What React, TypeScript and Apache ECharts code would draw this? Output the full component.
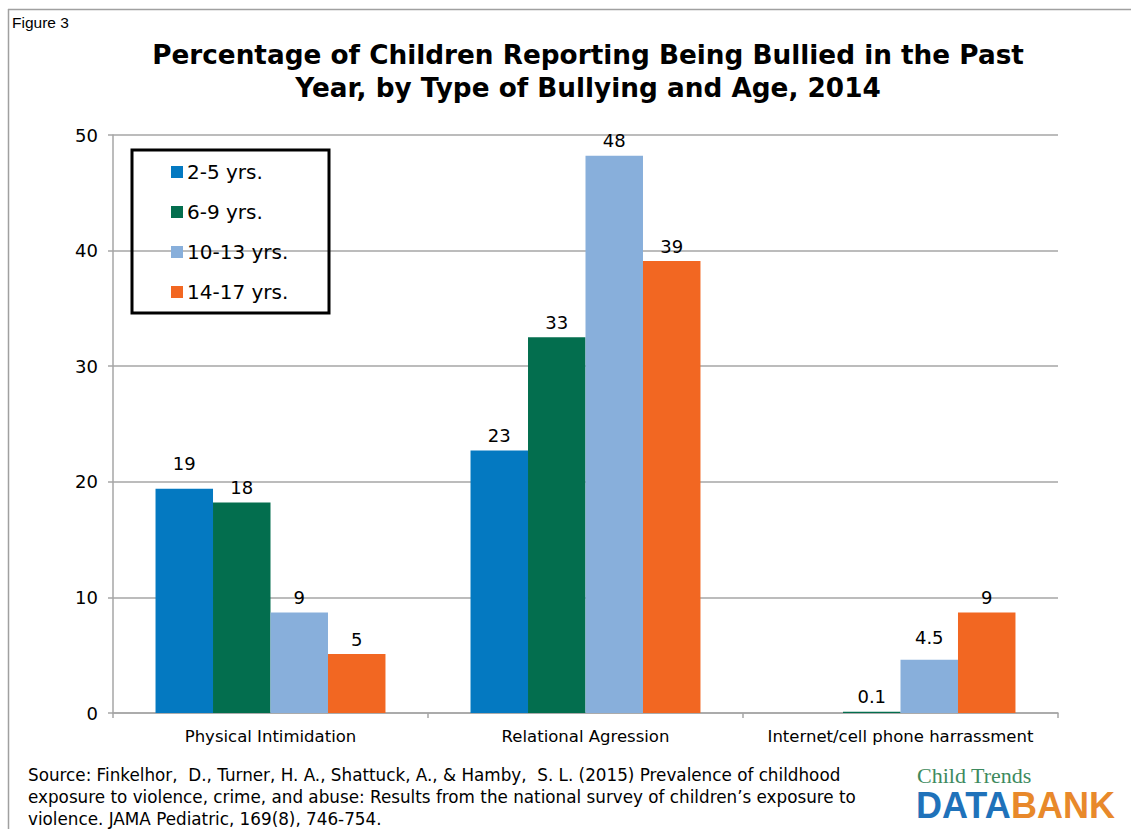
import React, { useEffect, useRef } from "react";
import * as echarts from "echarts";

const categories = ["Physical Intimidation", "Relational Agression", "Internet/cell phone harrassment"];
const seriesNames = ["2-5 yrs.", "6-9 yrs.", "10-13 yrs.", "14-17 yrs."];
const colors = ["#0479C1", "#036E4E", "#88AFDB", "#F26722"];
const age2to5 = [19.4, 22.7, null];
const age6to9 = [18.2, 32.5, 0.1];
const age10to13 = [8.7, 48.2, 4.6];
const age14to17 = [5.1, 39.1, 8.7];
const labels2to5 = ["19", "23", ""];
const labels6to9 = ["18", "33", "0.1"];
const labels10to13 = ["9", "48", "4.5"];
const labels14to17 = ["5", "39", "9"];
const yTicks = [0, 10, 20, 30, 40, 50];

const titleText = "Percentage of Children Reporting Being Bullied in the Past\nYear, by Type of Bullying and Age, 2014";
const sourceLines = [
  "Source: Finkelhor,  D., Turner, H. A., Shattuck, A., & Hamby,  S. L. (2015) Prevalence of childhood",
  "exposure to violence, crime, and abuse: Results from the national survey of children\u2019s exposure to",
  "violence. JAMA Pediatric, 169(8), 746-754.",
];

const FONT = "DejaVu Sans";

// extra label lift (px) for labels that the original nudged upward to avoid neighbours
const labelLift: Record<string, number> = { "0-0": 10, "2-2": 7 };

export default function App() {
  const ref = useRef<HTMLDivElement>(null);
  useEffect(() => {
    if (!ref.current) return;
    const chart = echarts.init(ref.current, null, { renderer: "svg" });
    const data = [age2to5, age6to9, age10to13, age14to17];
    const lbls = [labels2to5, labels6to9, labels10to13, labels14to17];
    chart.setOption({
      animation: false,
      backgroundColor: "#fff",
      title: {
        text: titleText,
        left: 583,
        top: 33,
        textAlign: "center",
        textStyle: { fontFamily: FONT, fontSize: 26.3, fontWeight: "bold", color: "#000", lineHeight: 33 },
      },
      legend: {
        orient: "vertical",
        left: 171,
        top: 162,
        padding: 0,
        itemWidth: 12,
        itemHeight: 12,
        itemGap: 20,
        icon: "rect",
        data: seriesNames,
        textStyle: { fontFamily: FONT, fontSize: 20, color: "#000", lineHeight: 20, padding: [0, 0, 0, -1] },
      },
      grid: { left: 113, right: 73, top: 135, bottom: 116 },
      xAxis: {
        type: "category",
        data: categories,
        axisLine: { lineStyle: { color: "#A6A6A6", width: 1.5 } },
        axisTick: { show: true, length: 5, lineStyle: { color: "#A6A6A6", width: 1.5 } },
        axisLabel: { interval: 0, fontFamily: FONT, fontSize: 16.5, color: "#000", margin: 15 },
      },
      yAxis: {
        type: "value",
        min: yTicks[0],
        max: yTicks[yTicks.length - 1],
        interval: 10,
        axisLine: { show: true, lineStyle: { color: "#A6A6A6", width: 1.5 } },
        axisTick: { show: true, length: 5, lineStyle: { color: "#A6A6A6", width: 1.5 } },
        axisLabel: { fontFamily: FONT, fontSize: 18, color: "#000", margin: 15 },
        splitLine: { lineStyle: { color: "#A6A6A6", width: 1.5 } },
      },
      series: seriesNames.map((name, i) => ({
        name,
        type: "bar",
        data: data[i].map((v, j) => ({
          value: v,
          label: { offset: [0, -(labelLift[`${i}-${j}`] || 0)] },
        })),
        barGap: "0%",
        barCategoryGap: "27%",
        itemStyle: { color: colors[i] },
        label: {
          show: true,
          position: "top",
          distance: 6,
          fontFamily: FONT,
          fontSize: 18,
          color: "#000",
          formatter: (p: any) => lbls[i][p.dataIndex],
        },
      })),
      graphic: [
        { type: "line", shape: { x1: 8, y1: 9.5, x2: 1131, y2: 9.5 }, style: { stroke: "#A0A0A0", lineWidth: 1.5 } },
        { type: "line", shape: { x1: 8.5, y1: 9, x2: 8.5, y2: 829 }, style: { stroke: "#A0A0A0", lineWidth: 1.5 } },
        { type: "text", left: 12, top: 14, style: { text: "Figure 3", font: "15.5px 'Liberation Sans'", fill: "#000" } },
        { type: "rect", shape: { x: 132, y: 150, width: 197, height: 163 }, style: { fill: "none", stroke: "#000", lineWidth: 3 }, z: 10 },
        {
          type: "text",
          left: 28,
          top: 764,
          style: { text: sourceLines.join("\n"), font: `16.8px '${FONT}'`, fill: "#000", lineHeight: 22 },
        },
        { type: "text", left: 917, top: 764, style: { text: "Child Trends", font: "22px 'Liberation Serif'", fill: "#3E8A5E" } },
        { type: "text", left: 916, top: 787, style: { text: "DATA", font: "bold 36px 'Liberation Sans'", fill: "#1F72BA" } },
        { type: "text", left: 1011, top: 787, style: { text: "BANK", font: "bold 36px 'Liberation Sans'", fill: "#E8892B" } },
      ],
    });
    return () => chart.dispose();
  }, []);
  return <div ref={ref} style={{ position: "fixed", left: 0, top: 0, width: 1131, height: 829 }} />;
}
